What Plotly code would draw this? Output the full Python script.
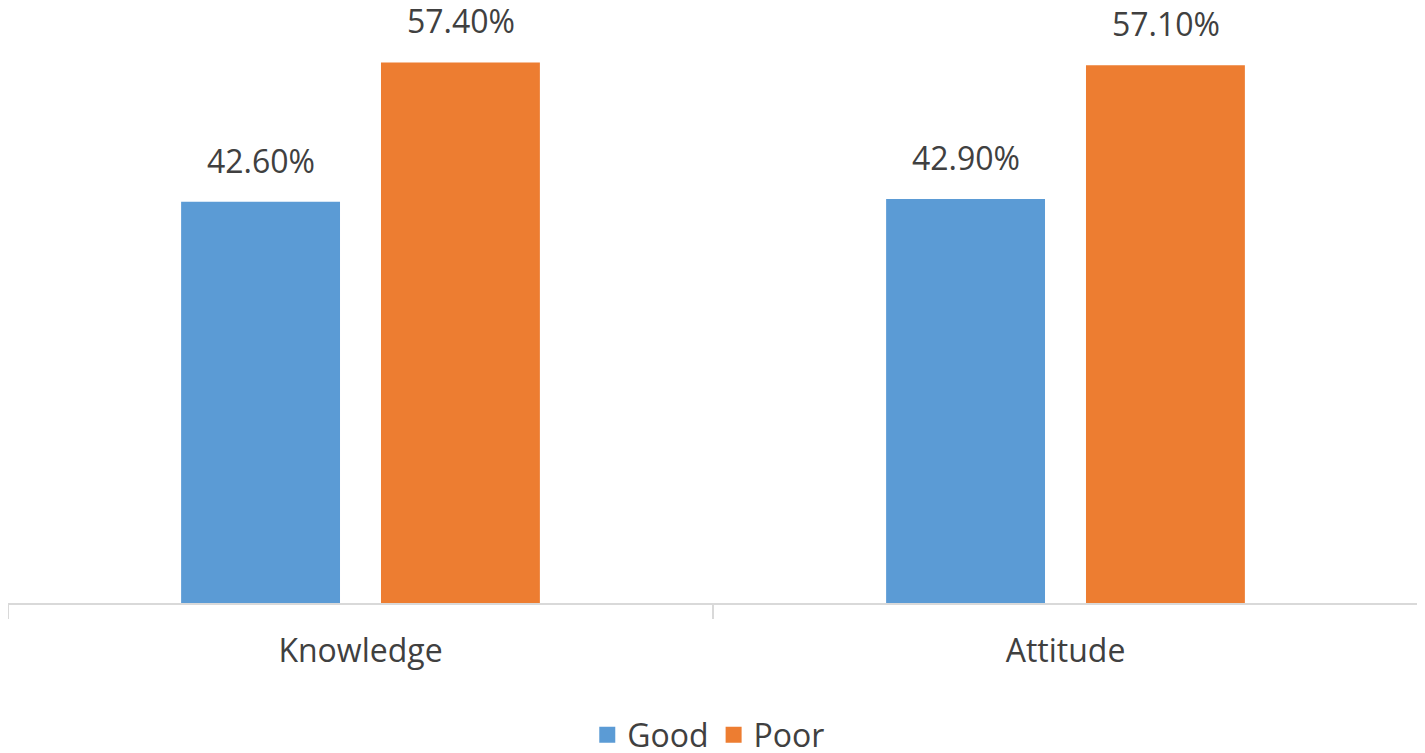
import plotly.graph_objects as go

# data
categories = ["Knowledge", "Attitude"]
series_names = ["Good", "Poor"]
good_values = [42.6, 42.9]
poor_values = [57.4, 57.1]
series_colors = ["#5B9BD5", "#ED7D31"]

values = [good_values, poor_values]
text_color = "#404040"
font_family = "Open Sans"

fig = go.Figure()

for name, vals, color in zip(series_names, values, series_colors):
    fig.add_trace(
        go.Bar(
            x=categories,
            y=vals,
            name=name,
            marker=dict(color=color, line=dict(width=0)),
            showlegend=False,
            hoverinfo="x+y+name",
        )
    )

# legend entries with bigger square swatches than the bar icon
for name, color in zip(series_names, series_colors):
    fig.add_trace(
        go.Scatter(
            x=[None],
            y=[None],
            name=name,
            mode="markers",
            marker=dict(symbol="square", size=16, color=color),
        )
    )

# value labels, sitting well above the bar tops like the excel ones
annotations = []
for i, vals in enumerate(values):
    for cat, v in zip(categories, vals):
        annotations.append(
            dict(
                x=cat,
                y=v,
                xref="x",
                yref="y",
                text=f"{v:.2f}%",
                showarrow=False,
                xshift=(i - 0.5) * 200,
                yanchor="bottom",
                yshift=18,
                font=dict(family=font_family, size=32, color=text_color),
            )
        )

# the page body adds an 8px offset, so the figure is a bit smaller than the window
fig.update_layout(
    width=1417,
    height=745,
    margin=dict(l=0, r=7, t=30, b=150, autoexpand=False),
    paper_bgcolor="white",
    plot_bgcolor="white",
    barmode="group",
    bargap=0.433,
    bargroupgap=0.205,
    font=dict(family=font_family, size=32, color=text_color),
    annotations=annotations,
    showlegend=True,
    legend=dict(
        orientation="h",
        x=0.497,
        xanchor="center",
        y=-0.2336,
        yanchor="middle",
        font=dict(family=font_family, size=32, color=text_color),
        itemclick=False,
        bgcolor="rgba(0,0,0,0)",
    ),
)

fig.update_xaxes(
    showline=True,
    linecolor="#D9D9D9",
    linewidth=2,
    ticks="outside",
    tickson="boundaries",
    ticklen=14,
    tickcolor="#D9D9D9",
    tickwidth=2,
    ticklabelstandoff=19,
    showgrid=False,
    tickfont=dict(family=font_family, size=32, color=text_color),
)

fig.update_yaxes(
    range=[0, 60],
    visible=False,
    showgrid=False,
    zeroline=False,
)

fig.write_html("out.html")
